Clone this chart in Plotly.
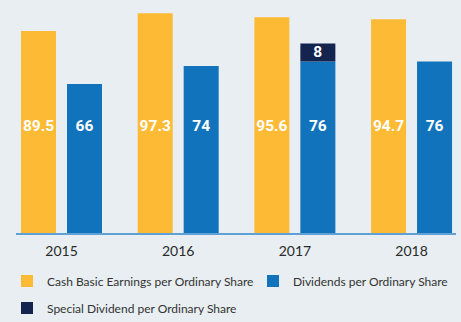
import plotly.graph_objects as go

years = ["2015", "2016", "2017", "2018"]
cash_eps = [89.5, 97.3, 95.6, 94.7]
dividends = [66, 74, 76, 76]
special = [None, None, 8, None]

label_cash = [f"{v:g}" for v in cash_eps]
label_div = [f"{v:g}" for v in dividends]
label_special = ["" if v is None else f"{v:g}" for v in special]

YELLOW = "#FDBB35"
BLUE = "#1073BB"
NAVY = "#13244F"
BG = "#E8EEF1"
NUM_FONT = "Roboto, Liberation Sans Narrow, sans-serif"
TXT_FONT = "Lato, Open Sans, sans-serif"
LABEL_Y = 47
W, H = 461, 322
NUM_SIZE = 15.5

num_font = dict(family=NUM_FONT, size=NUM_SIZE, color="white", weight="bold")

fig = go.Figure()
fig.add_trace(go.Bar(
    x=years, y=cash_eps, name="Cash Basic Earnings per Ordinary Share",
    marker=dict(color=YELLOW, line=dict(width=0)), offsetgroup="a",
    legend="legend", hoverinfo="skip"))
fig.add_trace(go.Bar(
    x=years, y=dividends, name="Dividends per Ordinary Share",
    marker=dict(color=BLUE, line=dict(width=0)), offsetgroup="b",
    legend="legend3", hoverinfo="skip"))
fig.add_trace(go.Bar(
    x=years, y=special, base=dividends, name="Special Dividend per Ordinary Share",
    marker=dict(color=NAVY, line=dict(width=0)), offsetgroup="b",
    text=label_special, textposition="inside", insidetextanchor="middle",
    textangle=0, constraintext="none", textfont=num_font,
    legend="legend2", hoverinfo="skip"))

# value labels (same height inside every bar)
fig.add_trace(go.Scatter(
    x=years, y=[LABEL_Y] * len(years), mode="text", text=label_cash,
    offsetgroup="a", showlegend=False, hoverinfo="skip", textfont=num_font))
fig.add_trace(go.Scatter(
    x=years, y=[LABEL_Y] * len(years), mode="text", text=label_div,
    offsetgroup="b", showlegend=False, hoverinfo="skip", textfont=num_font))

leg_common = dict(orientation="h", xanchor="left", yanchor="middle",
                  xref="container", yref="container",
                  font=dict(family=TXT_FONT, size=12, color="#333333"),
                  bgcolor="rgba(0,0,0,0)", borderwidth=0)

fig.update_layout(
    width=W, height=H,
    margin=dict(l=16, r=5, t=5, b=89, autoexpand=False),
    paper_bgcolor=BG, plot_bgcolor=BG,
    barmode="group", bargap=0.2116, bargroupgap=0.239,
    scattermode="group", scattergap=0.2116,
    xaxis=dict(range=[-0.39, 3.381], showgrid=False, zeroline=False,
               showline=True, linecolor="#5FA1D6", linewidth=2,
               ticks="outside", ticklen=4, tickcolor="rgba(0,0,0,0)",
               tickfont=dict(family=TXT_FONT, size=14, color="#2a2a2a"),
               fixedrange=True),
    yaxis=dict(range=[0, 101], visible=False, fixedrange=True),
    legend=dict(x=7 / W, y=1 - 281 / H, **leg_common),
    legend3=dict(x=253 / W, y=1 - 281 / H, **leg_common),
    legend2=dict(x=7 / W, y=1 - 308 / H, **leg_common),
    showlegend=True,
)

fig.write_html("out.html")
